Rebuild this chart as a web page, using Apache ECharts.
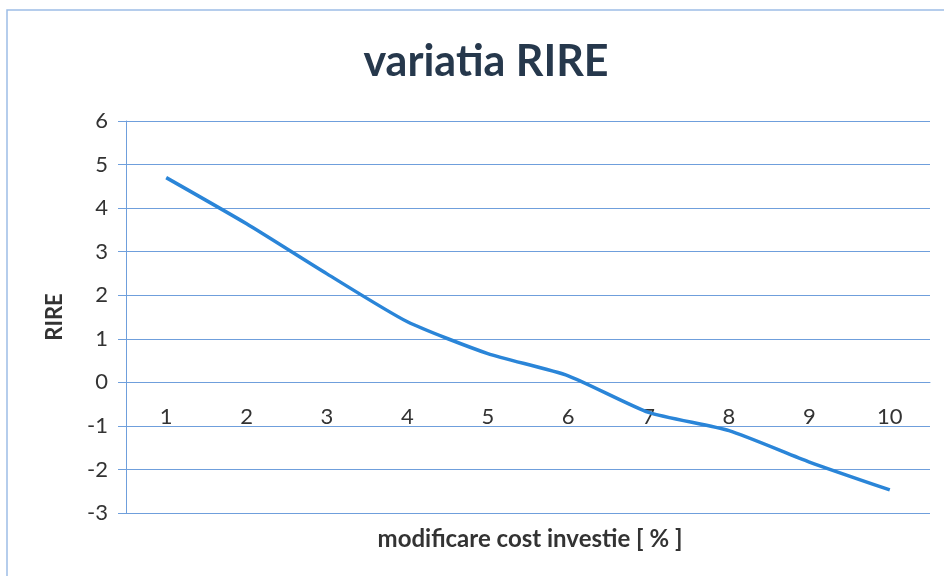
<!DOCTYPE html>
<html>
<head>
<meta charset="utf-8">
<script src="https://cdn.jsdelivr.net/npm/echarts@6/dist/echarts.min.js"></script>
<style>html,body{margin:0;padding:0;background:#fff}#c{width:944px;height:576px}</style>
</head>
<body>
<div id="c"></div>
<script>
const categories = ['1','2','3','4','5','6','7','8','9','10'];
const rireValues = [4.7, 3.64, 2.49, 1.39, 0.66, 0.15, -0.69, -1.11, -1.83, -2.47];
const yTicks = {min: -3, max: 6, interval: 1};
const titleText = 'variatia RIRE';
const xName = 'modificare cost investie [ % ]';
const yName = 'RIRE';

const gridTop = 121, gridBottom = 63, chartH = 576;
const plotH = chartH - gridTop - gridBottom;
// shift the category axis up to the value 0 line
const zeroOffset = -plotH * (0 - yTicks.min) / (yTicks.max - yTicks.min);

const chart = echarts.init(document.getElementById('c'), null, {renderer: 'canvas'});
const gridColor = '#6f9fdc';
chart.setOption({
  backgroundColor: '#ffffff',
  animation: false,
  title: [
    {text: titleText, left: 481, top: 36, textAlign: 'center',
     textStyle: {fontFamily: 'Lato', fontWeight: 'bold', fontSize: 43, color: '#26384c'}},
    {text: xName, left: 525, top: 522, textAlign: 'center',
     textStyle: {fontFamily: 'Lato', fontWeight: 'bold', fontSize: 24, color: '#333'}}
  ],
  graphic: [
    {type: 'rect', shape: {x: 7, y: 10, width: 960, height: 600},
     style: {fill: 'none', stroke: '#9dbde6', lineWidth: 1.5}, silent: true}
  ],
  grid: {left: 126, right: 14, top: gridTop, bottom: gridBottom, containLabel: false},
  xAxis: {
    type: 'category',
    data: categories,
    boundaryGap: true,
    position: 'bottom',
    offset: zeroOffset,
    axisLine: {show: true, onZero: false, lineStyle: {color: gridColor, width: 1}},
    axisTick: {show: false},
    axisLabel: {margin: 24, fontFamily: 'Lato', fontSize: 22, color: '#333'}
  },
  yAxis: {
    type: 'value',
    min: yTicks.min, max: yTicks.max, interval: yTicks.interval,
    name: yName, nameLocation: 'middle', nameGap: 60, nameRotate: 90,
    nameTextStyle: {fontFamily: 'Lato', fontWeight: 'bold', fontSize: 22, color: '#333'},
    axisLine: {show: true, lineStyle: {color: gridColor, width: 1}},
    axisTick: {show: true, length: 8, lineStyle: {color: gridColor}},
    axisLabel: {margin: 18, fontFamily: 'Lato', fontSize: 22, color: '#333'},
    splitLine: {show: true, lineStyle: {color: gridColor, width: 1}}
  },
  series: [{
    type: 'line',
    data: rireValues,
    smooth: 0.2,
    symbol: 'none',
    lineStyle: {color: '#2a85d8', width: 3.5},
    itemStyle: {color: '#2a85d8'}
  }]
});
</script>
</body>
</html>
